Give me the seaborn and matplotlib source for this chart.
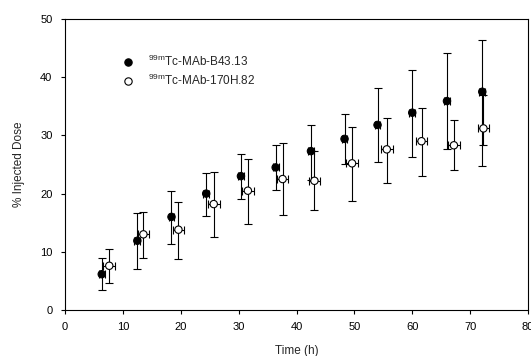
"""
Biodistribution time course: % injected dose vs time for two 99mTc-labelled MAbs.
"""

import matplotlib
matplotlib.use("Agg")
import matplotlib.pyplot as plt
import numpy as np
import pandas as pd
import seaborn as sns

# --- data ------------------------------------------------------------------
label_b43 = r"$\mathregular{^{99m}}$Tc-MAb-B43.13"
label_170 = r"$\mathregular{^{99m}}$Tc-MAb-170H.82"

b43_time = [6.35, 12.5, 18.4, 24.4, 30.4, 36.4, 42.5, 48.3, 54.0, 60.0, 66.0, 72.1]
b43_dose = [6.15, 11.9, 16.0, 20.0, 23.0, 24.5, 27.3, 29.4, 31.8, 33.9, 35.9, 37.5]
b43_upper = [8.9, 16.7, 20.4, 23.6, 26.8, 28.4, 31.8, 33.7, 38.1, 41.2, 44.1, 46.4]
b43_lower = [3.45, 7.05, 11.4, 16.2, 19.1, 20.7, 22.3, 25.1, 25.5, 26.3, 27.6, 24.8]
b43_time_err = [0.5] * 12

h170_time = [7.65, 13.55, 19.6, 25.7, 31.6, 37.6, 43.1, 49.6, 55.6, 61.6, 67.2, 72.3]
h170_dose = [7.6, 13.0, 13.8, 18.2, 20.5, 22.5, 22.2, 25.2, 27.6, 29.0, 28.3, 31.2]
h170_upper = [10.45, 16.8, 18.6, 23.7, 25.9, 28.7, 27.3, 31.4, 33.0, 34.7, 32.6, 37.0]
h170_lower = [4.7, 8.9, 8.7, 12.6, 14.8, 16.3, 17.1, 18.8, 21.9, 23.1, 24.0, 28.3]
h170_time_err = [1.0] * 12

x_ticks = [0, 10, 20, 30, 40, 50, 60, 70, 80]
y_ticks = [0, 10, 20, 30, 40, 50]

# --- style ----------------------------------------------------------------
sns.set_style("ticks")
plt.rcParams.update({
    "font.family": ["Liberation Sans", "DejaVu Sans"],
    "font.size": 8,
    "axes.linewidth": 0.8,
    "xtick.major.size": 3,
    "ytick.major.size": 3,
    "xtick.major.width": 0.8,
    "ytick.major.width": 0.8,
    "xtick.direction": "out",
    "ytick.direction": "out",
    "xtick.color": "black",
    "ytick.color": "black",
    "axes.edgecolor": "black",
})

df = pd.concat([
    pd.DataFrame({"time": b43_time, "dose": b43_dose, "mab": label_b43}),
    pd.DataFrame({"time": h170_time, "dose": h170_dose, "mab": label_170}),
], ignore_index=True)

fig = plt.figure(figsize=(5.31, 3.56), dpi=100)
ax = fig.add_axes([65 / 531, 46 / 356, 463 / 531, 291 / 356])

err_kw = dict(fmt="none", ecolor="black", elinewidth=0.8, capsize=2.6,
              capthick=0.8, zorder=2)
ax.errorbar(b43_time, b43_dose,
            yerr=[np.subtract(b43_dose, b43_lower), np.subtract(b43_upper, b43_dose)],
            xerr=b43_time_err, **err_kw)
ax.errorbar(h170_time, h170_dose,
            yerr=[np.subtract(h170_dose, h170_lower), np.subtract(h170_upper, h170_dose)],
            xerr=h170_time_err, **err_kw)

sns.scatterplot(data=df, x="time", y="dose", hue="mab", style="mab",
                palette={label_b43: "black", label_170: "white"},
                markers={label_b43: "o", label_170: "o"},
                edgecolor="black", linewidth=0.8, s=28, zorder=3, ax=ax)

ax.set_xlim(0, 80)
ax.set_ylim(0, 50)
ax.set_xticks(x_ticks)
ax.set_yticks(y_ticks)
ax.tick_params(labelsize=8, pad=6)
for side in ["top", "right"]:
    ax.spines[side].set_visible(True)
ax.set_xlabel("Time (h)", fontsize=8.5, labelpad=9)
ax.set_ylabel("% Injected Dose", fontsize=8.5, labelpad=11)

leg = ax.legend(loc="upper left", bbox_to_anchor=(0.11, 0.9), frameon=False,
                handlelength=1.0, handletextpad=1.2, labelspacing=0.3,
                borderpad=0, fontsize=8.5, markerscale=1.0)

fig.savefig("out.png", dpi=100)
plt.close(fig)
